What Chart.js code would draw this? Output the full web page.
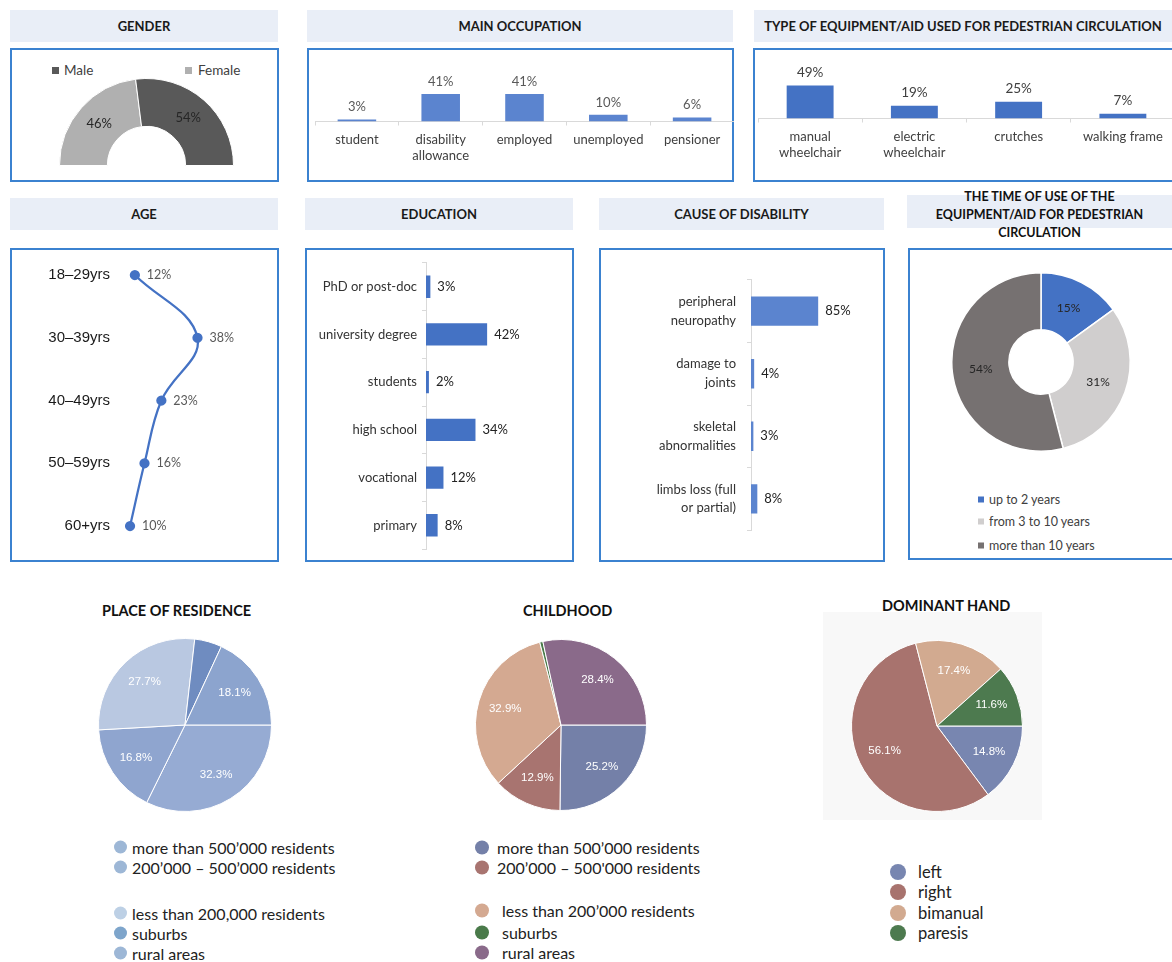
<!DOCTYPE html>
<html lang="en">
<head>
<meta charset="UTF-8">
<title>Survey profile dashboard</title>
<script src="https://cdn.jsdelivr.net/npm/chart.js"></script>
<style>
    body {
        margin: 0;
        width: 1172px;
        height: 962px;
        position: relative;
        overflow: hidden;
        background: #fff;
        font-family: Lato, sans-serif;
    }
    .title {
        position: absolute;
        background: #e9eef7;
        font-weight: bold;
        font-size: 13px;
        color: #1a1a1a;
        display: flex;
        align-items: center;
        justify-content: center;
        text-align: center;
    }
    .panel {
        position: absolute;
        border: 2px solid #3b82d0;
        box-sizing: border-box;
    }
    .chart { position: absolute; }
    .big-title {
        position: absolute;
        font-weight: bold;
        font-size: 14.5px;
        color: #111;
        white-space: nowrap;
    }
    .legend { position: absolute; color: #333; white-space: nowrap; }
    .legend .item { position: absolute; display: flex; align-items: center; }
    .legend .mark { display: inline-block; flex: none; }
</style>
</head>
<body>

<!-- row 1 -->
<div class="title" style="left:10px;top:10px;width:268px;height:32px;">GENDER</div>
<div class="panel" style="left:10px;top:48px;width:269px;height:134px;"></div>
<div class="legend" id="genderLegend" style="left:0;top:0;font-size:13.5px;color:#404040;"></div>
<div class="chart" style="left:14px;top:78px;width:265px;height:88px;"><canvas id="genderChart"></canvas></div>

<div class="title" style="left:307px;top:10px;width:426px;height:32px;">MAIN OCCUPATION</div>
<div class="panel" style="left:307px;top:48px;width:427px;height:134px;"></div>
<div class="chart" style="left:309px;top:50px;width:425px;height:130px;"><canvas id="occupationChart"></canvas></div>

<div class="title" style="left:754px;top:10px;width:418px;height:32px;">TYPE OF EQUIPMENT/AID USED FOR PEDESTRIAN CIRCULATION</div>
<div class="panel" style="left:753px;top:48px;width:430px;height:134px;"></div>
<div class="chart" style="left:755px;top:50px;width:420px;height:130px;"><canvas id="equipmentChart"></canvas></div>

<!-- row 2 -->
<div class="title" style="left:10px;top:198px;width:268px;height:32px;">AGE</div>
<div class="panel" style="left:10px;top:248px;width:269px;height:314px;"></div>
<div class="chart" style="left:12px;top:250px;width:264px;height:310px;"><canvas id="ageChart"></canvas></div>

<div class="title" style="left:305px;top:198px;width:268px;height:32px;">EDUCATION</div>
<div class="panel" style="left:305px;top:248px;width:269px;height:314px;"></div>
<div class="chart" style="left:307px;top:250px;width:266px;height:312px;"><canvas id="educationChart"></canvas></div>

<div class="title" style="left:599px;top:198px;width:285px;height:32px;">CAUSE OF DISABILITY</div>
<div class="panel" style="left:599px;top:248px;width:286px;height:314px;"></div>
<div class="chart" style="left:601px;top:250px;width:282px;height:310px;"><canvas id="causeChart"></canvas></div>

<div class="title" style="left:907px;top:195px;width:265px;height:33px;"></div>
<div class="big-title" style="left:907px;top:188px;width:265px;text-align:center;font-size:12.5px;line-height:18px;white-space:normal;">THE TIME OF USE OF THE<br>EQUIPMENT/AID FOR PEDESTRIAN<br>CIRCULATION</div>
<div class="panel" style="left:908px;top:248px;width:270px;height:312px;"></div>
<div class="chart" style="left:910px;top:272px;width:262px;height:180px;"><canvas id="timeChart"></canvas></div>
<div class="legend" id="timeLegend" style="left:0;top:0;font-size:12.5px;color:#404040;"></div>

<!-- row 3 -->
<div class="big-title" style="left:102px;top:602px;">PLACE OF RESIDENCE</div>
<div class="chart" style="left:98px;top:638px;width:174px;height:174px;"><canvas id="placeChart"></canvas></div>
<div class="legend" id="placeLegend" style="left:0;top:0;font-size:16px;color:#222;"></div>

<div class="big-title" style="left:523px;top:602px;">CHILDHOOD</div>
<div class="chart" style="left:475px;top:639px;width:172px;height:172px;"><canvas id="childhoodChart"></canvas></div>
<div class="legend" id="childhoodLegend" style="left:0;top:0;font-size:16px;color:#222;"></div>

<div style="position:absolute;left:823px;top:612px;width:219px;height:208px;background:#f8f8f8;"></div>
<div class="big-title" style="left:882px;top:597px;">DOMINANT HAND</div>
<div class="chart" style="left:851px;top:640px;width:172px;height:172px;"><canvas id="handChart"></canvas></div>
<div class="legend" id="handLegend" style="left:0;top:0;font-size:16.5px;color:#222;"></div>

<script>
    // ---- data ----
    const genderLabels = ['Male', 'Female'];
    const genderValues = [54, 46];

    const occupationLabels = [['student'], ['disability', 'allowance'], ['employed'], ['unemployed'], ['pensioner']];
    const occupationValues = [3, 41, 41, 10, 6];

    const equipmentLabels = [['manual', 'wheelchair'], ['electric', 'wheelchair'], ['crutches'], ['walking frame']];
    const equipmentValues = [49, 19, 25, 7];

    const ageLabels = ['18\u201329yrs', '30\u201339yrs', '40\u201349yrs', '50\u201359yrs', '60+yrs'];
    const ageValues = [12, 38, 23, 16, 10];

    const educationLabels = ['PhD or post-doc', 'university degree', 'students', 'high school', 'vocational', 'primary'];
    const educationValues = [3, 42, 2, 34, 12, 8];

    const causeLabels = [['peripheral', 'neuropathy'], ['damage to', 'joints'], ['skeletal', 'abnormalities'], ['limbs loss (full', 'or partial)']];
    const causeValues = [85, 4, 3, 8];

    const timeLabels = ['up to 2 years', 'from 3 to 10 years', 'more than 10 years'];
    const timeValues = [15, 31, 54];

    const placeLabels = ['more than 500\u2019000 residents', '200\u2019000 \u2013 500\u2019000 residents', 'less than 200,000 residents', 'suburbs', 'rural areas'];
    const placeValues = [32.3, 16.8, 27.7, 5.1, 18.1];

    const childhoodLabels = ['more than 500\u2019000 residents', '200\u2019000 \u2013 500\'000 residents', 'less than 200\u2019000 residents', 'suburbs', 'rural areas'];
    const childhoodValues = [25.2, 12.9, 32.9, 0.6, 28.4];

    const handLabels = ['left', 'right', 'bimanual', 'paresis'];
    const handValues = [14.8, 56.1, 17.4, 11.6];

    // ---- colours ----
    const genderColors = ['#595959', '#b0b0b0'];
    const timeColors = ['#4472c4', '#d0cece', '#767171'];
    const placeColors = ['#96abd3', '#8fa5cf', '#b9c8e1', '#6f8cc0', '#8ca4ce'];
    const placeLegendColors = ['#9db7d6', '#9db7d6', '#bdd0e5', '#7ea5cb', '#9db7d6'];
    const childhoodColors = ['#7480a8', '#a87470', '#d4a991', '#4a7a4a', '#8a6a8a'];
    const handColors = ['#7886b0', '#a8736e', '#d2aa90', '#4d7a4f'];

    Chart.defaults.font.family = 'Lato, sans-serif';
    Chart.defaults.animation = false;
    Chart.defaults.plugins.legend.display = false;
    Chart.defaults.plugins.tooltip.enabled = false;
    Chart.defaults.responsive = true;
    Chart.defaults.maintainAspectRatio = false;

    // draws the value labels (no datalabels plugin offline)
    const valueLabels = {
        id: 'valueLabels',
        afterDatasetsDraw(chart) {
            const ds = chart.data.datasets[0];
            const cfg = ds.labelCfg;
            if (!cfg) return;
            const ctx = chart.ctx;
            const meta = chart.getDatasetMeta(0);
            ctx.save();
            ctx.font = cfg.font;
            ctx.fillStyle = cfg.color;
            meta.data.forEach((el, i) => {
                const v = ds.data[i];
                if (cfg.min && v < cfg.min) return;
                const text = v + '%';
                if (cfg.pos === 'top') {
                    ctx.textAlign = 'center';
                    ctx.textBaseline = 'bottom';
                    ctx.fillText(text, el.x, el.y - cfg.offset);
                } else if (cfg.pos === 'right') {
                    ctx.textAlign = 'left';
                    ctx.textBaseline = 'middle';
                    ctx.fillText(text, el.x + cfg.offset, el.y);
                } else {
                    const p = el.getProps(['x', 'y', 'startAngle', 'endAngle', 'innerRadius', 'outerRadius'], true);
                    const mid = (p.startAngle + p.endAngle) / 2;
                    const r = p.innerRadius > 0 ? (p.innerRadius + p.outerRadius) / 2 : p.outerRadius * cfg.radius;
                    ctx.textAlign = 'center';
                    ctx.textBaseline = 'middle';
                    ctx.fillText(text, p.x + Math.cos(mid) * r, p.y + Math.sin(mid) * r);
                }
            });
            ctx.restore();
        }
    };
    Chart.register(valueLabels);

    // simple html legend, one item per position
    function makeLegend(id, labels, colors, items) {
        const box = document.getElementById(id);
        labels.forEach((lab, i) => {
            const it = items[i];
            const div = document.createElement('div');
            div.className = 'item';
            div.style.left = it.x + 'px';
            div.style.top = it.y + 'px';
            div.style.transform = 'translateY(-50%)';
            const m = document.createElement('span');
            m.className = 'mark';
            m.style.width = it.size + 'px';
            m.style.height = it.size + 'px';
            m.style.background = colors[i];
            m.style.borderRadius = it.round ? '50%' : '0';
            m.style.marginRight = it.gap + 'px';
            div.appendChild(m);
            div.appendChild(document.createTextNode(lab));
            box.appendChild(div);
        });
    }

    // ---- gender (half doughnut) ----
    new Chart(document.getElementById('genderChart'), {
        type: 'doughnut',
        data: {
            labels: genderLabels.slice().reverse(),
            datasets: [{
                data: genderValues.slice().reverse(),
                backgroundColor: genderColors.slice().reverse(),
                borderColor: '#fff',
                borderWidth: 1,
                labelCfg: { pos: 'arc', font: '13px Lato', color: '#262626' }
            }]
        },
        options: { rotation: -90, circumference: 180, cutout: '45%', layout: { padding: 0 } }
    });
    makeLegend('genderLegend', genderLabels, genderColors, [
        { x: 52, y: 70, size: 7, gap: 5 },
        { x: 185, y: 70, size: 7, gap: 6 }
    ]);

    // ---- vertical bars ----
    function columnChart(id, labels, values, color, max, pad, barPct, labelFont, labelColor) {
        new Chart(document.getElementById(id), {
            type: 'bar',
            data: {
                labels: labels,
                datasets: [{
                    data: values,
                    backgroundColor: color,
                    categoryPercentage: 1,
                    barPercentage: barPct,
                    labelCfg: { pos: 'top', offset: 6, font: labelFont, color: labelColor }
                }]
            },
            options: {
                layout: { padding: pad },
                scales: {
                    y: { display: false, min: 0, max: max },
                    x: {
                        grid: { drawOnChartArea: false, tickLength: 4, color: '#d9d9d9' },
                        border: { color: '#d9d9d9' },
                        ticks: { font: { size: 13, lineHeight: 1.25 }, color: '#404040', padding: 6, maxRotation: 0, autoSkip: false }
                    }
                }
            }
        });
    }
    columnChart('occupationChart', occupationLabels, occupationValues, '#5b84cf', 92,
        { left: 6, right: 0, top: 10, bottom: 10 }, 0.46, '13px Lato', '#595959');
    columnChart('equipmentChart', equipmentLabels, equipmentValues, '#4472c4', 87,
        { left: 3, right: 0, top: 10, bottom: 13 }, 0.45, '13.5px Lato', '#404040');

    // ---- age (line with categories down the side) ----
    new Chart(document.getElementById('ageChart'), {
        type: 'line',
        data: {
            labels: ageLabels,
            datasets: [{
                data: ageValues,
                borderColor: '#4472c4',
                backgroundColor: '#4472c4',
                borderWidth: 2.25,
                tension: 0.4,
                pointRadius: 4,
                pointBackgroundColor: '#4472c4',
                labelCfg: { pos: 'right', offset: 12, font: '12.5px Lato', color: '#595959' }
            }]
        },
        options: {
            indexAxis: 'y',
            layout: { padding: { top: 25, bottom: 34, left: 0, right: 6 } },
            scales: {
                x: { display: false, min: 5, max: 68 },
                y: {
                    grid: { display: false, drawTicks: false },
                    border: { display: false },
                    ticks: { font: { family: 'Liberation Sans', size: 15 }, color: '#1a1a1a', padding: 8 },
                    afterFit: s => { s.width = 106; }
                }
            }
        }
    });

    // ---- horizontal bars ----
    function barRowChart(id, labels, values, color, max, axisWidth, pad, barPct, tickPad, lineHeight) {
        new Chart(document.getElementById(id), {
            type: 'bar',
            data: {
                labels: labels,
                datasets: [{
                    data: values,
                    backgroundColor: color,
                    categoryPercentage: 1,
                    barPercentage: barPct,
                    labelCfg: { pos: 'right', offset: 7, font: '13px Lato', color: '#222' }
                }]
            },
            options: {
                indexAxis: 'y',
                layout: { padding: pad },
                scales: {
                    x: { display: false, min: 0, max: max },
                    y: {
                        grid: { drawOnChartArea: false, tickLength: 4, color: '#d9d9d9' },
                        border: { color: '#d9d9d9' },
                        ticks: { font: { size: 13, lineHeight: lineHeight }, color: '#333', padding: tickPad, autoSkip: false },
                        afterFit: s => { s.width = axisWidth; }
                    }
                }
            }
        });
    }
    barRowChart('educationChart', educationLabels, educationValues, '#4472c4', 101, 119,
        { top: 4, bottom: 2, left: 0, right: 0 }, 0.47, 5, 1.2);
    barRowChart('causeChart', causeLabels, causeValues, '#5b84cf', 167, 150,
        { top: 3, bottom: 3, left: 0, right: 0 }, 0.47, 11, 1.45);

    // ---- time of use (doughnut) ----
    new Chart(document.getElementById('timeChart'), {
        type: 'doughnut',
        data: {
            labels: timeLabels,
            datasets: [{
                data: timeValues,
                backgroundColor: timeColors,
                borderColor: '#fff',
                borderWidth: 1.5,
                labelCfg: { pos: 'arc', font: '12px Lato', color: '#262626' }
            }]
        },
        options: { cutout: '36%', layout: { padding: 0 } }
    });
    makeLegend('timeLegend', timeLabels, timeColors, [
        { x: 978, y: 499, size: 6, gap: 5 },
        { x: 978, y: 521, size: 6, gap: 5 },
        { x: 978, y: 545, size: 6, gap: 5 }
    ]);

    // ---- pies ----
    function pieChart(id, labels, values, colors) {
        new Chart(document.getElementById(id), {
            type: 'pie',
            data: {
                labels: labels,
                datasets: [{
                    data: values,
                    backgroundColor: colors,
                    borderColor: '#fff',
                    borderWidth: 1,
                    labelCfg: { pos: 'arc', radius: 0.68, min: 6, font: '11.5px "Liberation Sans"', color: '#fff' }
                }]
            },
            options: { rotation: 90, layout: { padding: 0 } }
        });
    }
    pieChart('placeChart', placeLabels, placeValues, placeColors);
    pieChart('childhoodChart', childhoodLabels, childhoodValues, childhoodColors);
    pieChart('handChart', handLabels, handValues, handColors);

    makeLegend('placeLegend', placeLabels, placeLegendColors, [
        { x: 114, y: 847, size: 13, gap: 5, round: true },
        { x: 114, y: 867, size: 13, gap: 5, round: true },
        { x: 114, y: 913, size: 13, gap: 5, round: true },
        { x: 114, y: 933, size: 13, gap: 5, round: true },
        { x: 114, y: 953, size: 13, gap: 5, round: true }
    ]);
    makeLegend('childhoodLegend', childhoodLabels, childhoodColors, [
        { x: 475, y: 847, size: 14, gap: 8, round: true },
        { x: 475, y: 867, size: 14, gap: 8, round: true },
        { x: 475, y: 910, size: 14, gap: 13, round: true },
        { x: 475, y: 932, size: 14, gap: 13, round: true },
        { x: 475, y: 952, size: 14, gap: 13, round: true }
    ]);
    makeLegend('handLegend', handLabels, handColors, [
        { x: 890, y: 872, size: 16, gap: 12, round: true },
        { x: 890, y: 892, size: 16, gap: 12, round: true },
        { x: 890, y: 913, size: 16, gap: 12, round: true },
        { x: 890, y: 933, size: 16, gap: 12, round: true }
    ]);
</script>
</body>
</html>
